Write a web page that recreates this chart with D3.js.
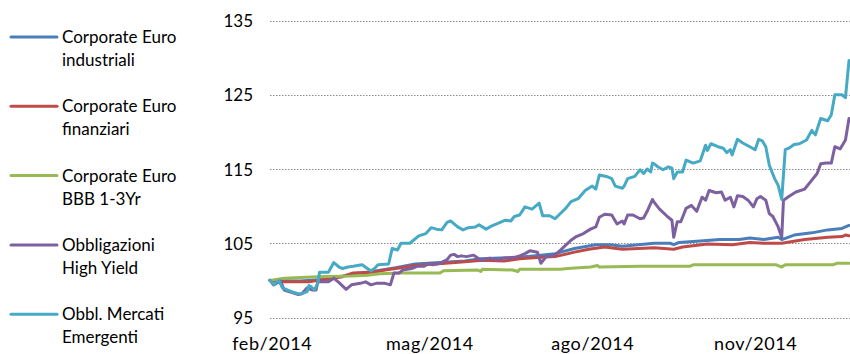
<!DOCTYPE html>
<html>
<head>
<meta charset="utf-8">
<script src="https://cdn.jsdelivr.net/npm/d3@7"></script>
<style>
  html, body { margin: 0; padding: 0; background: #fff; }
  svg { display: block; }
  text { font-family: Lato, "Noto Sans", sans-serif; fill: #000; }
</style>
</head>
<body>
<svg id="chart" width="850" height="354"></svg>
<script>
// Performance index, base 100 = end of January 2014
const industriali = [
  ["2014-01-31",100.0],["2014-02-17",99.9],["2014-03-06",100.2],["2014-03-19",100.9],
  ["2014-03-30",101.2],["2014-04-12",101.7],["2014-04-23",102.2],["2014-05-07",102.4],
  ["2014-05-21",102.6],["2014-05-30",102.9],["2014-06-10",103.0],["2014-06-21",103.1],
  ["2014-07-03",103.4],["2014-07-11",103.6],["2014-07-22",104.3],["2014-08-03",104.8],
  ["2014-08-11",104.8],["2014-08-18",104.6],["2014-08-27",104.8],["2014-09-05",105.0],
  ["2014-09-14",105.0],["2014-09-16",104.8],["2014-09-19",105.1],["2014-10-01",105.3],
  ["2014-10-12",105.5],["2014-10-23",105.5],["2014-10-29",105.7],["2014-11-06",105.5],
  ["2014-11-14",105.8],["2014-11-16",105.5],["2014-11-23",106.1],["2014-12-03",106.4],
  ["2014-12-12",106.8],["2014-12-20",107.0],["2014-12-24",107.4]
];
const finanziari = [
  ["2014-01-31",100.0],["2014-02-08",99.8],["2014-02-22",99.8],["2014-03-02",100.1],
  ["2014-03-13",100.5],["2014-03-19",101.0],["2014-03-30",101.1],["2014-04-06",101.4],
  ["2014-04-12",101.6],["2014-04-23",102.0],["2014-05-10",102.3],["2014-05-21",102.5],
  ["2014-05-31",102.7],["2014-06-12",102.6],["2014-06-21",102.9],["2014-07-03",103.1],
  ["2014-07-11",103.2],["2014-07-22",103.8],["2014-07-30",104.2],["2014-08-08",104.5],
  ["2014-08-18",104.2],["2014-08-27",104.3],["2014-09-05",104.4],["2014-09-16",104.2],
  ["2014-09-21",104.5],["2014-10-05",104.9],["2014-10-19",104.8],["2014-10-29",105.1],
  ["2014-11-06",105.0],["2014-11-16",105.0],["2014-11-29",105.5],["2014-12-12",105.8],
  ["2014-12-20",105.9],["2014-12-22",106.1],["2014-12-24",106.0]
];
const bbb13 = [
  ["2014-01-31",100.0],["2014-02-08",100.3],["2014-02-27",100.5],["2014-03-18",100.6],
  ["2014-03-27",100.7],["2014-04-03",100.9],["2014-04-15",101.0],["2014-05-07",101.0],
  ["2014-05-09",101.3],["2014-05-28",101.4],["2014-05-30",101.2],["2014-05-31",101.5],
  ["2014-06-17",101.4],["2014-06-20",101.2],["2014-06-21",101.5],["2014-07-14",101.5],
  ["2014-07-18",101.6],["2014-07-31",101.8],["2014-08-04",102.0],["2014-08-05",101.8],
  ["2014-08-28",101.9],["2014-09-25",101.9],["2014-09-27",102.1],["2014-11-13",102.1],
  ["2014-11-16",101.8],["2014-11-18",102.1],["2014-12-15",102.1],["2014-12-17",102.3],
  ["2014-12-24",102.3]
];
const highYield = [
  ["2014-01-31",100.0],["2014-02-02",99.4],["2014-02-06",99.9],["2014-02-08",98.7],
  ["2014-02-12",98.4],["2014-02-16",98.1],["2014-02-18",98.2],["2014-02-21",99.0],
  ["2014-02-24",98.7],["2014-02-26",98.7],["2014-02-27",99.8],["2014-03-05",99.8],
  ["2014-03-08",100.3],["2014-03-11",99.7],["2014-03-15",98.8],["2014-03-18",99.4],
  ["2014-03-23",99.6],["2014-03-26",99.8],["2014-03-29",99.4],["2014-04-01",99.6],
  ["2014-04-06",99.6],["2014-04-09",99.4],["2014-04-11",101.0],["2014-04-14",101.0],
  ["2014-04-16",101.4],["2014-04-21",101.6],["2014-04-24",101.9],["2014-04-28",101.9],
  ["2014-05-01",102.3],["2014-05-03",102.1],["2014-05-07",102.3],["2014-05-11",102.8],
  ["2014-05-13",103.4],["2014-05-15",103.5],["2014-05-17",103.2],["2014-05-19",103.3],
  ["2014-05-22",103.2],["2014-05-26",103.4],["2014-05-30",102.7],["2014-06-04",103.0],
  ["2014-06-08",102.8],["2014-06-12",103.0],["2014-06-18",103.1],["2014-06-21",103.3],
  ["2014-06-24",103.6],["2014-06-27",104.0],["2014-07-01",103.8],["2014-07-03",102.3],
  ["2014-07-06",103.2],["2014-07-09",103.3],["2014-07-12",103.6],["2014-07-16",104.5],
  ["2014-07-20",105.4],["2014-07-23",105.9],["2014-07-27",106.3],["2014-07-31",106.9],
  ["2014-08-03",107.2],["2014-08-05",108.5],["2014-08-08",108.9],["2014-08-12",108.8],
  ["2014-08-15",107.6],["2014-08-18",108.0],["2014-08-19",107.6],["2014-08-21",108.8],
  ["2014-08-24",108.8],["2014-08-28",108.3],["2014-08-30",108.4],["2014-09-01",109.3],
  ["2014-09-04",110.9],["2014-09-05",110.5],["2014-09-08",109.6],["2014-09-12",108.7],
  ["2014-09-15",108.1],["2014-09-16",105.8],["2014-09-18",107.9],["2014-09-20",107.9],
  ["2014-09-23",109.7],["2014-09-26",110.1],["2014-09-29",109.3],["2014-10-02",111.2],
  ["2014-10-04",110.8],["2014-10-06",112.1],["2014-10-10",111.8],["2014-10-13",111.9],
  ["2014-10-15",110.8],["2014-10-18",111.2],["2014-10-20",109.9],["2014-10-22",111.4],
  ["2014-10-25",111.3],["2014-10-28",110.8],["2014-10-31",109.9],["2014-11-02",111.0],
  ["2014-11-04",111.3],["2014-11-07",110.8],["2014-11-09",109.0],["2014-11-11",108.6],
  ["2014-11-14",107.2],["2014-11-16",105.8],["2014-11-17",110.8],["2014-11-20",111.3],
  ["2014-11-24",111.9],["2014-11-29",112.3],["2014-12-03",113.5],["2014-12-06",114.4],
  ["2014-12-08",115.7],["2014-12-11",115.8],["2014-12-14",115.8],["2014-12-16",118.0],
  ["2014-12-19",117.7],["2014-12-21",118.5],["2014-12-22",118.9],["2014-12-24",121.8]
];
const emergenti = [
  ["2014-01-31",100.0],["2014-02-02",99.4],["2014-02-05",100.0],["2014-02-07",99.0],
  ["2014-02-10",98.7],["2014-02-13",98.4],["2014-02-16",98.2],["2014-02-18",98.2],
  ["2014-02-21",98.5],["2014-02-22",99.3],["2014-02-23",99.2],["2014-02-25",98.7],
  ["2014-02-27",99.6],["2014-02-28",101.1],["2014-03-05",101.1],["2014-03-08",102.4],
  ["2014-03-11",101.8],["2014-03-13",101.6],["2014-03-16",101.8],["2014-03-19",101.9],
  ["2014-03-24",102.1],["2014-03-27",101.6],["2014-03-29",101.3],["2014-03-31",101.6],
  ["2014-04-02",102.1],["2014-04-08",102.2],["2014-04-10",104.3],["2014-04-13",104.1],
  ["2014-04-15",105.0],["2014-04-20",105.0],["2014-04-25",106.0],["2014-04-29",106.3],
  ["2014-05-02",107.1],["2014-05-05",106.9],["2014-05-08",106.8],["2014-05-11",107.8],
  ["2014-05-13",108.0],["2014-05-17",107.2],["2014-05-20",106.8],["2014-05-23",107.1],
  ["2014-05-27",107.2],["2014-05-29",107.5],["2014-06-02",106.9],["2014-06-05",107.3],
  ["2014-06-09",107.7],["2014-06-13",108.1],["2014-06-16",108.0],["2014-06-18",108.6],
  ["2014-06-21",108.8],["2014-06-24",109.9],["2014-06-28",109.6],["2014-07-02",110.4],
  ["2014-07-04",108.7],["2014-07-08",108.7],["2014-07-11",108.3],["2014-07-14",109.0],
  ["2014-07-17",109.7],["2014-07-20",110.6],["2014-07-24",111.0],["2014-07-28",112.1],
  ["2014-08-01",112.7],["2014-08-03",112.3],["2014-08-05",114.2],["2014-08-09",114.0],
  ["2014-08-12",113.7],["2014-08-14",112.7],["2014-08-18",112.4],["2014-08-19",112.7],
  ["2014-08-21",113.7],["2014-08-25",114.0],["2014-08-28",114.9],["2014-08-30",114.4],
  ["2014-09-01",115.0],["2014-09-03",114.6],["2014-09-04",115.8],["2014-09-05",115.7],
  ["2014-09-07",115.3],["2014-09-10",114.9],["2014-09-13",115.3],["2014-09-15",115.1],
  ["2014-09-16",113.7],["2014-09-18",114.6],["2014-09-21",114.6],["2014-09-23",116.2],
  ["2014-09-27",115.8],["2014-10-01",116.1],["2014-10-04",118.2],["2014-10-05",117.5],
  ["2014-10-07",118.4],["2014-10-11",118.0],["2014-10-14",117.8],["2014-10-16",117.2],
  ["2014-10-18",117.6],["2014-10-19",116.9],["2014-10-22",119.0],["2014-10-25",118.5],
  ["2014-10-29",118.0],["2014-11-01",117.6],["2014-11-03",119.0],["2014-11-05",118.8],
  ["2014-11-07",118.0],["2014-11-09",115.5],["2014-11-12",113.7],["2014-11-14",112.8],
  ["2014-11-16",110.9],["2014-11-18",117.6],["2014-11-20",117.8],["2014-11-23",118.3],
  ["2014-11-26",118.4],["2014-11-30",118.9],["2014-12-03",120.2],["2014-12-05",119.6],
  ["2014-12-08",121.8],["2014-12-12",121.5],["2014-12-14",122.3],["2014-12-16",125.0],
  ["2014-12-20",125.0],["2014-12-22",124.6],["2014-12-24",129.6]
];

const seriesNames = [
  ["Corporate Euro", "industriali"],
  ["Corporate Euro", "finanziari"],
  ["Corporate Euro", "BBB 1-3Yr"],
  ["Obbligazioni", "High Yield"],
  ["Obbl. Mercati", "Emergenti"]
];
const seriesColors = ["#4a7ebb", "#be4b48", "#98b954", "#7d60a0", "#46aac5"];
const seriesData = [industriali, finanziari, bbb13, highYield, emergenti];

const yTicks = [95, 105, 115, 125, 135];
const xTickDates = ["2014-02-01", "2014-05-01", "2014-08-01", "2014-11-01"];
const xTickLabels = ["feb/2014", "mag/2014", "ago/2014", "nov/2014"];

const parse = d3.timeParse("%Y-%m-%d");
const svg = d3.select("#chart");

const x = d3.scaleTime()
  .domain([parse("2014-01-31"), parse("2014-12-24")])
  .range([270, 849]);
const y = d3.scaleLinear().domain([95, 135]).range([317.5, 20.5]);

// dotted horizontal gridlines
svg.append("g").selectAll("line").data(yTicks).join("line")
  .attr("x1", 270).attr("x2", 850)
  .attr("y1", d => Math.round(y(d)) + 0.5).attr("y2", d => Math.round(y(d)) + 0.5)
  .attr("stroke", "#8c8c8c").attr("stroke-width", 1)
  .attr("stroke-dasharray", "1.5,1.5");

// y axis labels
const yAxis = d3.axisLeft(y).tickValues(yTicks).tickSize(0).tickPadding(0);
const gy = svg.append("g").attr("transform", "translate(253,0)").call(yAxis);
gy.select(".domain").remove();
gy.selectAll("text")
  .attr("dy", null).attr("y", 6)
  .style("font-family", "Lato, sans-serif").style("font-size", "17px").attr("fill", "#000");

// x axis labels
const xAxis = d3.axisBottom(x)
  .tickValues(xTickDates.map(parse))
  .tickFormat((d, i) => xTickLabels[i])
  .tickSize(0).tickPadding(0);
const gx = svg.append("g").attr("transform", "translate(0,335)").call(xAxis);
gx.select(".domain").remove();
gx.selectAll("text")
  .attr("dy", null).attr("y", 15)
  .style("font-family", "Lato, sans-serif").style("font-size", "18px")
  .style("letter-spacing", "0.6px").attr("fill", "#000");

// series lines
const line = d3.line()
  .x(d => x(parse(d[0])))
  .y(d => y(d[1]))
  .curve(d3.curveLinear);

svg.append("g").selectAll("path").data(seriesData).join("path")
  .attr("d", line)
  .attr("fill", "none")
  .attr("stroke", (d, i) => seriesColors[i])
  .attr("stroke-width", 3)
  .attr("stroke-linejoin", "round")
  .attr("stroke-linecap", "round");

// legend
const legend = svg.append("g");
const item = legend.selectAll("g").data(seriesNames).join("g")
  .attr("transform", (d, i) => `translate(0,${37 + i * 69.3})`);
item.append("line")
  .attr("x1", 11).attr("x2", 57).attr("y1", 0).attr("y2", 0)
  .attr("stroke", (d, i) => seriesColors[i]).attr("stroke-width", 3)
  .attr("stroke-linecap", "round");
item.append("text")
  .attr("x", 62).attr("y", 6)
  .style("font-size", "17px")
  .selectAll("tspan").data(d => d).join("tspan")
  .attr("x", 62).attr("dy", (d, i) => i === 0 ? 0 : 23)
  .text(d => d);
</script>
</body>
</html>
